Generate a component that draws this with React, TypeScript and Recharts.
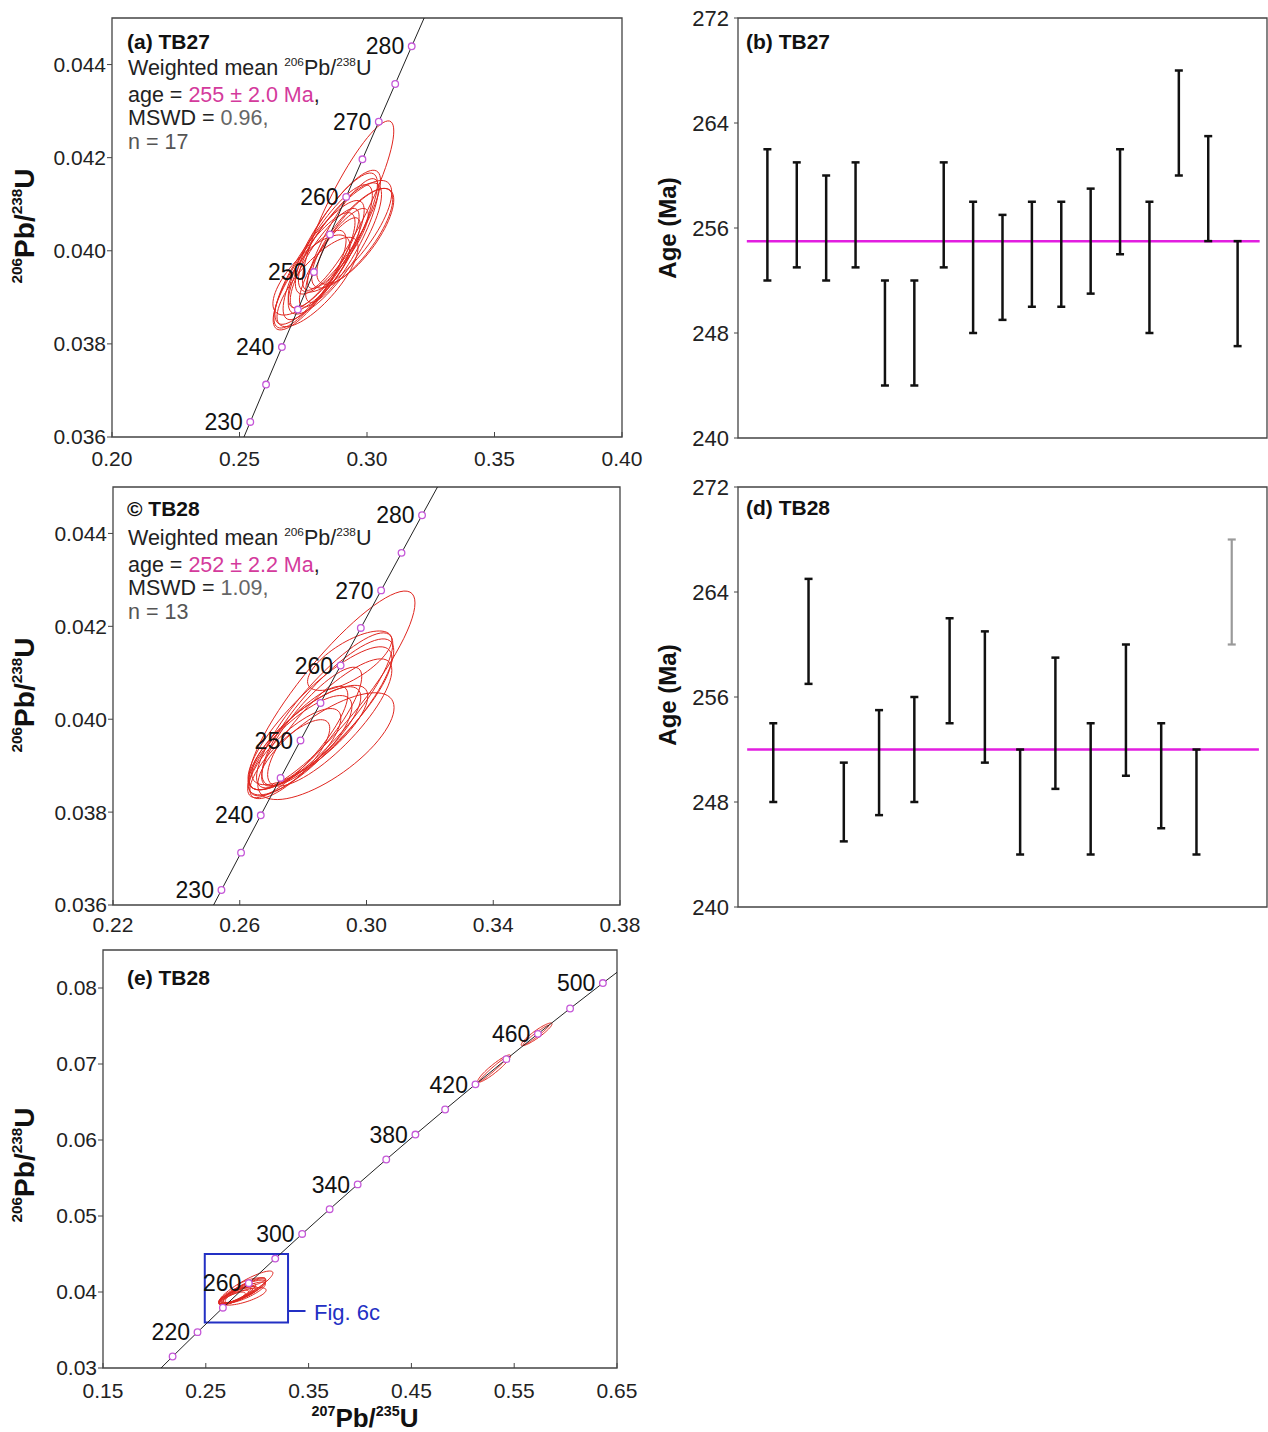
import React from 'react';
import {
  ScatterChart,
  Scatter,
  XAxis,
  YAxis,
  ReferenceArea,
  ReferenceLine,
  ErrorBar,
  LabelList,
} from 'recharts';

// ── Concordia ───────────────────────────────────────────────────────────────
// decay constants per Ma
const L235 = 9.8485e-4;
const L238 = 1.55125e-4;
const concordia = (t: number) => ({ x: Math.exp(L235 * t) - 1, y: Math.exp(L238 * t) - 1 });

const LINE_AGES_AC = [220, 225, 230, 235, 240, 245, 250, 255, 260, 265, 270, 275, 280, 285, 290];
const MARKER_AGES_AC = [230, 235, 240, 245, 250, 255, 260, 265, 270, 275, 280];
const LABEL_AGES_AC = [230, 240, 250, 260, 270, 280];

const LINE_AGES_E = [180, 200, 220, 240, 260, 280, 300, 320, 340, 360, 380, 400, 420, 440, 460, 480, 500, 520];
const MARKER_AGES_E = [200, 220, 240, 260, 280, 300, 320, 340, 360, 380, 400, 420, 440, 460, 480, 500];
const LABEL_AGES_E = [220, 260, 300, 340, 380, 420, 460, 500];

// ── Ellipses: [207Pb/235U, 2s, 206Pb/238U, 2s, rho] ─────────────────────────
const ELLIPSES_A = [
  [0.2926, 0.0179, 0.04097, 0.00182, 0.88],
  [0.2866, 0.0175, 0.04022, 0.00145, 0.84],
  [0.2886, 0.0167, 0.0404, 0.00133, 0.83],
  [0.2874, 0.0183, 0.04005, 0.00141, 0.82],
  [0.2846, 0.0175, 0.03997, 0.00145, 0.84],
  [0.2902, 0.0143, 0.04022, 0.00133, 0.84],
  [0.2914, 0.0183, 0.04031, 0.0012, 0.78],
  [0.2942, 0.0159, 0.04027, 0.00107, 0.78],
  [0.2954, 0.0151, 0.04031, 0.00103, 0.76],
  [0.2814, 0.0175, 0.03975, 0.00133, 0.84],
  [0.2794, 0.0159, 0.03958, 0.00124, 0.83],
  [0.2775, 0.0143, 0.03937, 0.00107, 0.8],
  [0.2782, 0.0151, 0.03948, 0.00086, 0.72],
  [0.2834, 0.0135, 0.03984, 0.00107, 0.84],
  [0.2854, 0.0119, 0.03975, 0.00096, 0.84],
  [0.2886, 0.0119, 0.04005, 0.00086, 0.84],
  [0.2806, 0.0159, 0.03933, 0.00096, 0.78],
];

const ELLIPSES_C = [
  [0.2891, 0.0262, 0.04062, 0.00214, 0.88],
  [0.2947, 0.0133, 0.04126, 0.00064, 0.7],
  [0.2868, 0.0215, 0.04019, 0.00167, 0.86],
  [0.2878, 0.0208, 0.04015, 0.00158, 0.84],
  [0.2853, 0.0227, 0.04002, 0.00154, 0.84],
  [0.2884, 0.0196, 0.03993, 0.00137, 0.82],
  [0.2805, 0.0177, 0.03959, 0.00111, 0.8],
  [0.279, 0.0164, 0.03944, 0.00107, 0.78],
  [0.2821, 0.0183, 0.03966, 0.00107, 0.78],
  [0.2774, 0.0145, 0.03929, 0.00094, 0.78],
  [0.2872, 0.0215, 0.03942, 0.00115, 0.72],
  [0.2783, 0.0158, 0.03951, 0.0012, 0.84],
  [0.2827, 0.0158, 0.03984, 0.00128, 0.84],
  [0.2758, 0.0126, 0.03914, 0.00085, 0.78],
];

const ELLIPSES_E_OLD = [
  [0.5305, 0.016, 0.0694, 0.0018, 0.93],
  [0.5295, 0.0135, 0.0693, 0.0016, 0.98],
  [0.5718, 0.015, 0.0739, 0.0015, 0.92],
  [0.5712, 0.0125, 0.0738, 0.0013, 0.97],
];

// ── Ages (Ma) and 2s errors ─────────────────────────────────────────────────
const AGES_B = [257, 257, 256, 257, 248, 248, 257, 253, 253, 254, 254, 255, 258, 253, 264, 259, 251];
const ERRS_B = [5, 4, 4, 4, 4, 4, 4, 5, 4, 4, 4, 4, 4, 5, 4, 4, 4];
const MEAN_B = 255;

const AGES_D = [251, 261, 248, 251, 252, 258, 256, 248, 254, 249, 255, 250, 248];
const ERRS_D = [3, 4, 3, 4, 4, 4, 5, 4, 5, 5, 5, 4, 4];
const AGES_D_OUT = [264];
const ERRS_D_OUT = [4];
const MEAN_D = 252;

const AGE_TICKS = [240, 248, 256, 264, 272];

// ── Helpers ─────────────────────────────────────────────────────────────────
const FONT = "'Liberation Sans', Arial, Helvetica, sans-serif";
const RED = '#e0261f';
const PINK = '#e21ee0';
const noShape = () => <g />;

const outline = (e: number[]) => {
  const [x, sx, y, sy, r] = e;
  const q = Math.sqrt(1 - r * r);
  return Array.from({ length: 73 }, (_, k) => {
    const t = (k / 72) * Math.PI * 2;
    const u = Math.cos(t);
    const v = Math.sin(t);
    return { x: x + sx * u, y: y + sy * (r * u + q * v) };
  });
};

const Marker = (p: any) => (
  <circle cx={p.cx} cy={p.cy} r={3.3} fill="#fff" stroke="#c558d8" strokeWidth={1.3} />
);

const Sup = ({ children }: any) => (
  <span style={{ fontSize: '0.55em', position: 'relative', top: '-0.75em' }}>{children}</span>
);

const PbU = ({ a, b }: { a: string; b: string }) => (
  <span>
    <Sup>{a}</Sup>Pb/<Sup>{b}</Sup>U
  </span>
);

const abs = (left: number, top: number, extra: any = {}): React.CSSProperties => ({
  position: 'absolute',
  left,
  top,
  whiteSpace: 'nowrap',
  ...extra,
});

const Rotated = ({ cx, cy, children, size }: any) => (
  <div
    style={abs(cx, cy, {
      transform: 'translate(-50%, -50%) rotate(-90deg)',
      fontWeight: 'bold',
      fontSize: size,
      lineHeight: 1,
      color: '#111',
    })}
  >
    {children}
  </div>
);

type ConcProps = {
  left: number;
  top: number;
  width: number;
  height: number;
  margin: { top: number; right: number; bottom: number; left: number };
  xDomain: [number, number];
  xTicks: number[];
  yDomain: [number, number];
  yTicks: number[];
  yWidth: number;
  xTickMargin: number;
  yDigits: number;
  ellipses: number[][];
  lineAges: number[];
  markerAges: number[];
  labelAges: number[];
  extra?: React.ReactNode;
};

function ConcordiaPanel(p: ConcProps) {
  const line = p.lineAges.map(concordia);
  const markers = p.markerAges.map(concordia);
  const labels = p.labelAges.map((t) => ({ ...concordia(t), label: String(t) }));
  return (
    <div style={abs(p.left, p.top)}>
      <ScatterChart width={p.width} height={p.height} margin={p.margin}>
        <XAxis
          type="number"
          dataKey="x"
          domain={p.xDomain}
          ticks={p.xTicks}
          allowDataOverflow
          axisLine={false}
          tickSize={-5}
          tickMargin={p.xTickMargin}
          height={30}
          tick={{ fontSize: 21, fill: '#222' }}
          tickLine={{ stroke: '#444' }}
          tickFormatter={(v: number) => v.toFixed(2)}
        />
        <YAxis
          type="number"
          dataKey="y"
          domain={p.yDomain}
          ticks={p.yTicks}
          allowDataOverflow
          axisLine={false}
          width={p.yWidth}
          tickSize={5}
          tickMargin={1}
          tick={{ fontSize: 21, fill: '#222' }}
          tickLine={{ stroke: '#444' }}
          tickFormatter={(v: number) => v.toFixed(p.yDigits)}
        />
        <ReferenceArea
          x1={p.xDomain[0]}
          x2={p.xDomain[1]}
          y1={p.yDomain[0]}
          y2={p.yDomain[1]}
          fill="none"
          stroke="#444"
          strokeWidth={1.3}
          ifOverflow="visible"
        />
        {p.ellipses.map((e, k) => (
          <Scatter
            key={k}
            data={outline(e)}
            line={{ stroke: RED, strokeWidth: 1 }}
            lineType="joint"
            shape={noShape}
            isAnimationActive={false}
          />
        ))}
        <Scatter
          data={line}
          line={{ stroke: '#222', strokeWidth: 1 }}
          lineType="joint"
          shape={noShape}
          isAnimationActive={false}
        />
        <Scatter data={markers} shape={Marker} isAnimationActive={false} />
        <Scatter data={labels} shape={noShape} isAnimationActive={false}>
          <LabelList dataKey="label" position="left" offset={3} style={{ fontSize: 23, fill: '#111' }} />
        </Scatter>
        {p.extra}
      </ScatterChart>
    </div>
  );
}

type AgeProps = {
  left: number;
  top: number;
  ages: number[];
  errs: number[];
  outAges?: number[];
  outErrs?: number[];
  mean: number;
  lineFrom: number;
  lineTo: number;
};

function AgePanel(p: AgeProps) {
  const slots = p.ages.length + (p.outAges ? p.outAges.length : 0) + 1;
  const data = p.ages.map((a, i) => ({ i: i + 1, age: a, err: p.errs[i] }));
  const out = (p.outAges || []).map((a, j) => ({
    i: p.ages.length + j + 1,
    age: a,
    err: (p.outErrs || [])[j],
  }));
  return (
    <div style={abs(p.left, p.top)}>
      <ScatterChart width={628} height={475} margin={{ top: 17, right: 1, bottom: 38, left: 0 }}>
        <XAxis type="number" dataKey="i" domain={[0, slots]} hide allowDataOverflow />
        <YAxis
          type="number"
          dataKey="age"
          domain={[240, 272]}
          ticks={AGE_TICKS}
          allowDataOverflow
          axisLine={false}
          width={98}
          tickSize={4}
          tickMargin={5}
          tick={{ fontSize: 22, fill: '#222' }}
          tickLine={{ stroke: '#444' }}
        />
        <ReferenceArea
          x1={0}
          x2={slots}
          y1={240}
          y2={272}
          fill="none"
          stroke="#444"
          strokeWidth={1.3}
          ifOverflow="visible"
        />
        <ReferenceLine
          segment={[
            { x: p.lineFrom, y: p.mean },
            { x: p.lineTo, y: p.mean },
          ]}
          stroke={PINK}
          strokeWidth={2.5}
        />
        <Scatter data={data} shape={noShape} isAnimationActive={false}>
          <ErrorBar dataKey="err" direction="y" width={4} stroke="#111" strokeWidth={2.5} isAnimationActive={false} />
        </Scatter>
        {out.length > 0 && (
          <Scatter data={out} shape={noShape} isAnimationActive={false}>
            <ErrorBar dataKey="err" direction="y" width={4} stroke="#9a9a9a" strokeWidth={2.2} isAnimationActive={false} />
          </Scatter>
        )}
      </ScatterChart>
    </div>
  );
}

const TITLE: React.CSSProperties = { fontWeight: 'bold', fontSize: 21, lineHeight: '21px', color: '#111' };
const NOTE: React.CSSProperties = { fontSize: 21.5, lineHeight: '23.5px', color: '#222' };

export default function App() {
  return (
    <div
      style={{
        position: 'absolute',
        left: 0,
        top: 0,
        width: 1268,
        height: 1432,
        background: '#fff',
        fontFamily: FONT,
        overflow: 'hidden',
      }}
    >
      {/* (a) */}
      <ConcordiaPanel
        left={0}
        top={0}
        width={660}
        height={475}
        margin={{ top: 18, right: 38, bottom: 8, left: 0 }}
        xDomain={[0.2, 0.4]}
        xTicks={[0.2, 0.25, 0.3, 0.35, 0.4]}
        yDomain={[0.036, 0.045]}
        yTicks={[0.036, 0.038, 0.04, 0.042, 0.044]}
        yWidth={112}
        xTickMargin={19}
        yDigits={3}
        ellipses={ELLIPSES_A}
        lineAges={LINE_AGES_AC}
        markerAges={MARKER_AGES_AC}
        labelAges={LABEL_AGES_AC}
      />
      <div style={abs(127, 31, TITLE)}>(a) TB27</div>
      <div style={abs(128, 57, NOTE)}>
        <div>
          Weighted mean <PbU a="206" b="238" />
        </div>
        <div>
          age = <span style={{ color: '#d43a9c' }}>255 ± 2.0 Ma</span>,
        </div>
        <div>
          MSWD = <span style={{ color: '#666' }}>0.96,</span>
        </div>
        <div style={{ color: '#555' }}>n = 17</div>
      </div>
      <Rotated cx={25} cy={226} size={28}>
        <PbU a="206" b="238" />
      </Rotated>

      {/* (b) */}
      <AgePanel left={640} top={1} ages={AGES_B} errs={ERRS_B} mean={MEAN_B} lineFrom={0.3} lineTo={17.75} />
      <div style={abs(746, 31, TITLE)}>(b) TB27</div>
      <Rotated cx={668} cy={228} size={24}>
        Age (Ma)
      </Rotated>

      {/* (c) */}
      <ConcordiaPanel
        left={0}
        top={470}
        width={660}
        height={473}
        margin={{ top: 17, right: 40, bottom: 8, left: 0 }}
        xDomain={[0.22, 0.38]}
        xTicks={[0.22, 0.26, 0.3, 0.34, 0.38]}
        yDomain={[0.036, 0.045]}
        yTicks={[0.036, 0.038, 0.04, 0.042, 0.044]}
        yWidth={113}
        xTickMargin={17}
        yDigits={3}
        ellipses={ELLIPSES_C}
        lineAges={LINE_AGES_AC}
        markerAges={MARKER_AGES_AC}
        labelAges={LABEL_AGES_AC}
      />
      <div style={abs(127, 498, TITLE)}>© TB28</div>
      <div style={abs(128, 527, NOTE)}>
        <div>
          Weighted mean <PbU a="206" b="238" />
        </div>
        <div>
          age = <span style={{ color: '#d43a9c' }}>252 ± 2.2 Ma</span>,
        </div>
        <div>
          MSWD = <span style={{ color: '#666' }}>1.09,</span>
        </div>
        <div style={{ color: '#555' }}>n = 13</div>
      </div>
      <Rotated cx={25} cy={695} size={28}>
        <PbU a="206" b="238" />
      </Rotated>

      {/* (d) */}
      <AgePanel
        left={640}
        top={470}
        ages={AGES_D}
        errs={ERRS_D}
        outAges={AGES_D_OUT}
        outErrs={ERRS_D_OUT}
        mean={MEAN_D}
        lineFrom={0.26}
        lineTo={14.77}
      />
      <div style={abs(746, 497, TITLE)}>(d) TB28</div>
      <Rotated cx={668} cy={695} size={24}>
        Age (Ma)
      </Rotated>

      {/* (e) */}
      <ConcordiaPanel
        left={0}
        top={935}
        width={660}
        height={471}
        margin={{ top: 15, right: 43, bottom: 8, left: 0 }}
        xDomain={[0.15, 0.65]}
        xTicks={[0.15, 0.25, 0.35, 0.45, 0.55, 0.65]}
        yDomain={[0.03, 0.085]}
        yTicks={[0.03, 0.04, 0.05, 0.06, 0.07, 0.08]}
        yWidth={103}
        xTickMargin={20}
        yDigits={2}
        ellipses={[...ELLIPSES_C, ...ELLIPSES_E_OLD]}
        lineAges={LINE_AGES_E}
        markerAges={MARKER_AGES_E}
        labelAges={LABEL_AGES_E}
        extra={[
          <ReferenceArea
            key="box"
            x1={0.249}
            x2={0.33}
            y1={0.036}
            y2={0.045}
            fill="none"
            stroke="#2330c4"
            strokeWidth={2}
            ifOverflow="visible"
          />,
          <ReferenceLine
            key="tie"
            segment={[
              { x: 0.33, y: 0.0375 },
              { x: 0.347, y: 0.0375 },
            ]}
            stroke="#2330c4"
            strokeWidth={2}
          />,
        ]}
      />
      <div style={abs(127, 967, TITLE)}>(e) TB28</div>
      <div style={abs(314, 1300, { fontSize: 22, lineHeight: '26px', color: '#2330c4' })}>Fig. 6c</div>
      <Rotated cx={25} cy={1165} size={28}>
        <PbU a="206" b="238" />
      </Rotated>
      <div
        style={abs(365, 1418, {
          transform: 'translate(-50%, -50%)',
          fontWeight: 'bold',
          fontSize: 26,
          lineHeight: 1,
          color: '#111',
        })}
      >
        <PbU a="207" b="235" />
      </div>
    </div>
  );
}
